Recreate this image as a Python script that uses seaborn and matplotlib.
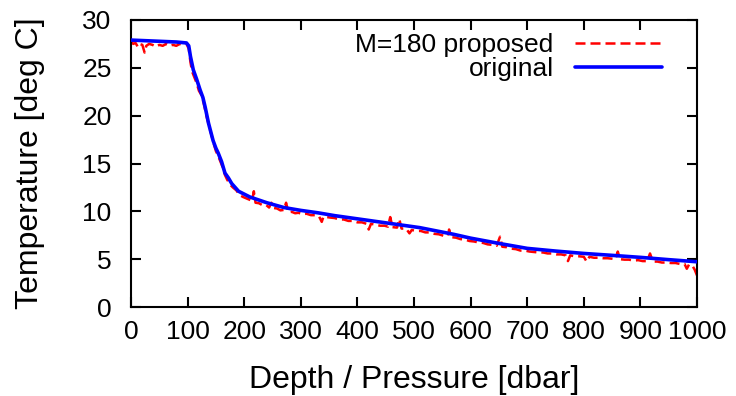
import numpy as np
import pandas as pd
import seaborn as sns
import matplotlib
matplotlib.use('Agg')
import matplotlib.pyplot as plt

# Data
orig_depth = [0, 20, 40, 60, 80, 98, 102, 105, 110, 116, 122, 127, 131, 137, 145, 150,
              154, 160, 166, 172, 178, 184, 190, 200, 210, 220, 240, 270, 300, 330, 360,
              390, 420, 450, 480, 510, 540, 570, 600, 650, 700, 750, 800, 850, 900, 950, 1000]
orig_temp = [27.9, 27.85, 27.8, 27.75, 27.7, 27.6, 27.3, 26.2, 24.8, 23.8, 22.7, 21.9, 20.9,
             19.2, 17.4, 16.6, 16.1, 15.2, 14.0, 13.5, 12.9, 12.5, 12.1, 11.8, 11.5, 11.3,
             10.9, 10.4, 10.1, 9.85, 9.55, 9.3, 9.05, 8.8, 8.55, 8.3, 7.95, 7.6, 7.2, 6.65,
             6.13, 5.85, 5.6, 5.4, 5.19, 4.95, 4.73]

# M=180 proposed (noisy), one line of depths per line of temps
prop_depth = [0, 4, 8, 12, 15, 20, 24, 27, 32, 38, 44, 50, 56, 62, 68, 74, 80, 86, 92, 98,
              102, 105, 108, 112, 116, 120, 124, 128, 131, 134, 138, 142, 146, 150, 154, 158,
              162, 166, 170, 175, 180, 186,
              192, 198, 204, 210, 214, 217, 220, 226, 232, 238, 244, 248, 252, 258, 264, 270,
              274, 278, 284, 290, 296, 302, 310, 318, 326, 332, 337, 340, 346, 352, 360, 368,
              376, 384, 392, 400, 408, 416, 420, 424, 432, 440, 448, 454, 458, 462, 470, 474,
              478, 486, 492, 496, 504, 512, 520, 528, 536, 544, 552, 560, 562, 566, 574, 582,
              590, 598, 606, 614, 622, 630, 638, 646, 652, 656, 664, 672, 680, 688, 696, 704,
              712, 720, 728, 736, 744, 752, 760, 768, 772, 776, 784, 792, 800, 805, 810, 818,
              826, 834, 842, 850, 856, 860, 864, 872, 880, 888, 896, 904, 912, 917, 922, 930,
              938, 946, 954, 962, 970, 978, 982, 986, 992, 996, 1000]
prop_temp = [27.8, 27.5, 27.6, 27.2, 27.5, 27.4, 26.6, 27.3, 27.5, 27.4, 27.2, 27.4, 27.3, 27.5, 27.3, 27.4, 27.3, 27.5, 27.4, 27.5,
             27.0, 25.6, 24.6, 24.0, 23.4, 22.6, 22.2, 21.4, 20.6, 19.8, 18.9, 18.0, 17.1, 16.3, 15.8, 15.2,
             14.6, 13.8, 13.3, 12.8, 12.5, 12.2,
             11.7, 11.5, 11.35, 11.2, 11.1, 12.1, 10.9, 10.85, 10.65, 10.7, 10.4, 10.9, 10.35, 10.3, 10.1, 10.15,
             10.9, 9.9, 9.95, 9.8, 9.85, 9.7, 9.75, 9.6, 9.6, 9.5, 8.9, 9.45, 9.4, 9.35, 9.3, 9.15,
             9.15, 9.0, 9.0, 8.85, 8.85, 8.7, 8.1, 8.7, 8.6, 8.5, 8.5, 8.4, 9.4, 8.35, 8.3, 9.2,
             8.2, 8.2, 7.7, 8.05, 7.95, 7.95, 7.8, 7.8, 7.65, 7.6, 7.45, 7.45, 8.1, 7.3, 7.25, 7.1,
             7.05, 6.9, 6.85, 6.75, 6.7, 6.55, 6.5, 6.4, 7.35, 6.3, 6.25, 6.1, 6.05, 5.9, 5.9, 5.8,
             5.75, 5.7, 5.7, 5.6, 5.6, 5.5, 5.5, 5.4, 4.8, 5.4, 5.3, 5.3, 5.25, 4.75, 5.25, 5.15,
             5.15, 5.1, 5.1, 5.05, 5.0, 5.8, 5.0, 4.95, 4.95, 4.85, 4.9, 4.8, 4.8, 5.6, 4.75, 4.75,
             4.65, 4.65, 4.6, 4.6, 4.5, 4.5, 4.0, 4.45, 4.3, 3.9, 3.3]

x_ticks = [0, 100, 200, 300, 400, 500, 600, 700, 800, 900, 1000]
y_ticks = [0, 5, 10, 15, 20, 25, 30]

sns.set_style("ticks")
plt.rcParams['font.family'] = ['Liberation Sans', 'DejaVu Sans']
plt.rcParams['text.color'] = 'black'
plt.rcParams['axes.labelcolor'] = 'black'
plt.rcParams['xtick.color'] = 'black'
plt.rcParams['ytick.color'] = 'black'

fig, ax = plt.subplots(figsize=(7.36, 3.96), dpi=100)
fig.subplots_adjust(left=0.178, right=0.947, top=0.9495, bottom=0.2247)

sns.lineplot(x=prop_depth, y=prop_temp, ax=ax, color='#ff0000', lw=1.8,
             linestyle=(0, (4, 2)), label='M=180 proposed', estimator=None, zorder=2)
sns.lineplot(x=orig_depth, y=orig_temp, ax=ax, color='#0000ff', lw=2.6,
             label='original', estimator=None, zorder=3)

ax.set_xlim(0, 1000)
ax.set_ylim(0, 30)
ax.set_xticks(x_ticks)
ax.set_yticks(y_ticks)
ax.tick_params(direction='in', length=7, width=1.5, top=True, right=True,
               labelsize=19, colors='black')
ax.tick_params(axis='x', pad=9)
ax.tick_params(axis='y', pad=14)
for s in ax.spines.values():
    s.set_visible(True)
    s.set_linewidth(1.5)
    s.set_color('black')

ax.set_xlabel('Depth / Pressure [dbar]', fontsize=23)
ax.set_ylabel('Temperature [deg C]', fontsize=23)
ax.xaxis.set_label_coords(0.5, -0.254)
ax.xaxis.label.set_va('center')
ax.yaxis.set_label_coords(-0.178, 0.5)
ax.yaxis.label.set_va('center')

ax.legend(loc='upper right', bbox_to_anchor=(0.938, 0.955), frameon=False,
          markerfirst=False, fontsize=19, handlelength=3.3, handletextpad=0.8,
          labelspacing=0.0, borderpad=0, borderaxespad=0)

plt.savefig('out.png', dpi=100)
plt.close()
